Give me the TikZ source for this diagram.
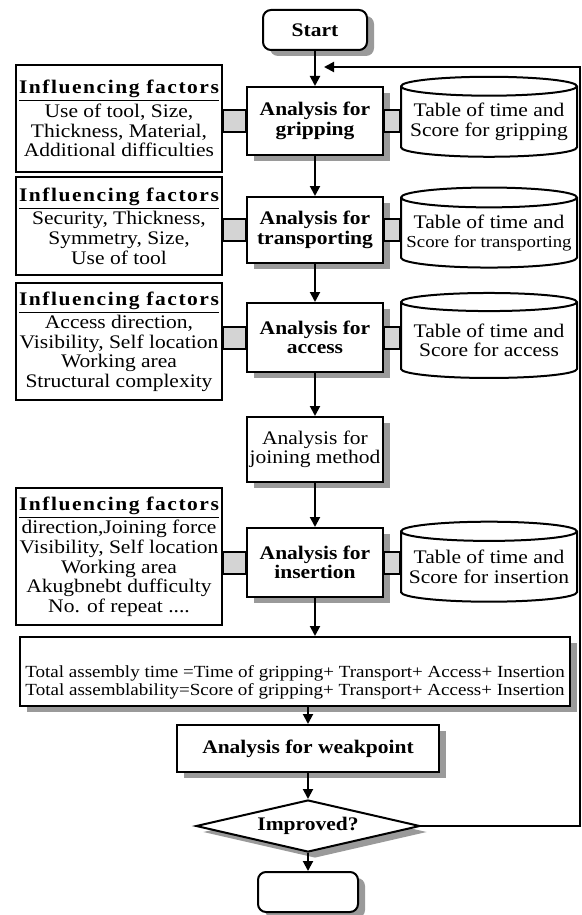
\documentclass[tikz,border=0pt]{standalone}
\usepackage{fontspec}
\setmainfont{Liberation Serif}[FakeStretch=1.12]
\usepackage{tikz}
\usetikzlibrary{arrows.meta,shapes.geometric,shadows}
\definecolor{shadowgray}{HTML}{9A9A9A}
\definecolor{bandgray}{HTML}{D4D4D4}
\newcommand{\infhead}{{\bfseries\addfontfeatures{LetterSpace=8}\underline{Influencing factors}}}

\begin{document}
\begin{tikzpicture}[x=0.5pt, y=-0.5pt, >={Triangle[length=5pt,width=5pt]},
  font=\fontsize{9.6}{9.8}\selectfont,
  boxshadow/.style={drop shadow={shadow xshift=3.5pt, shadow yshift=-3pt, fill=shadowgray, opacity=1}},
  proc/.style={draw, line width=1pt, fill=white, align=center, boxshadow,
    font=\fontsize{9.6}{9.8}\selectfont\bfseries, minimum width=68pt, inner sep=0pt},
  factors/.style={draw, line width=1pt, align=center, minimum width=103pt, inner sep=0pt},
  tablecyl/.style={cylinder, shape border rotate=90, aspect=0.12, draw, line width=1pt,
    align=center, minimum width=88pt, minimum height=40pt, inner sep=0pt},
  band/.style={draw, line width=1pt, fill=bandgray},
  flow/.style={->, line width=1pt}]
  \useasboundingbox (0,0) rectangle (582,915);
  % Start
  \node[proc, rounded corners=4pt, minimum width=52pt, minimum height=20pt] (start) at (315,30) {Start};
  % Gripping
  \node[factors, minimum height=53.5pt] (infl1) at (119,118.5)
    {\infhead\\Use of tool, Size,\\Thickness, Material,\\Additional difficulties};
  \node[proc, minimum height=34pt] (grip) at (315,121) {Analysis for\\gripping};
  \node[tablecyl] (tab1) at (489,122) {Table of time and\\Score for gripping};
  % Transporting
  \node[factors, minimum height=49pt] (infl2) at (119,226)
    {\infhead\\Security, Thickness,\\Symmetry, Size,\\Use of tool};
  \node[proc, minimum height=33pt] (trans) at (315,230) {Analysis for\\transporting};
  \node[tablecyl] (tab2) at (489,233)
    {Table of time and\\{\fontsize{8.4}{9.8}\selectfont Score for transporting}};
  % Access
  \node[factors, minimum height=58.5pt] (infl3) at (119,341.5)
    {\infhead\\Access direction,\\Visibility, Self location\\Working area\\Structural complexity};
  \node[proc, minimum height=34.5pt] (acc) at (315,337.5) {Analysis for\\access};
  \node[tablecyl, minimum height=42.5pt] (tab3) at (489,340.5) {Table of time and\\Score for access};
  % Joining
  \node[proc, font=\fontsize{9.6}{9.8}\selectfont, minimum height=32.5pt] (join) at (315,449.5)
    {Analysis for\\joining method};
  % Insertion
  \node[factors, minimum height=68.5pt] (infl4) at (119,556.5)
    {\infhead\\direction,Joining force\\Visibility, Self location\\Working area\\Akugbnebt dufficulty\\No. of repeat ....};
  \node[proc, minimum height=34.5pt] (ins) at (315,562.5) {Analysis for\\insertion};
  \node[tablecyl] (tab4) at (489,567) {Table of time and\\Score for insertion};
  % Totals
  \node[proc, font=\fontsize{8.5}{9}\selectfont, minimum width=275pt, minimum height=34.5pt] (total) at (295,671.5)
    {\mbox{}\\[8pt]Total assembly time =Time of gripping+ Transport+ Access+ Insertion\\Total assemblability=Score of gripping+ Transport+ Access+ Insertion};
  % Weak point and decision
  \node[proc, minimum width=131pt, minimum height=23.5pt] (weak) at (308,748.5) {Analysis for weakpoint};
  \node[diamond, aspect=4.3, draw, line width=1pt, fill=white, boxshadow,
    font=\fontsize{9.6}{9.8}\selectfont\bfseries, minimum width=112pt, minimum height=26pt, inner sep=0pt]
    (imp) at (308,826) {Improved?};
  \node[proc, rounded corners=4pt, minimum width=50pt, minimum height=20pt] (stop) at (308,892) {};
  % Links to factors and tables
  \foreach \f/\a/\t in {infl1/grip/tab1, infl2/trans/tab2, infl3/acc/tab3, infl4/ins/tab4} {
    \draw[band] ([yshift=5.5pt]\f.east |- \a) rectangle ([yshift=-5.5pt]\a.west);
    \draw[band] ([yshift=5.5pt]\a.east) rectangle ([yshift=-5.5pt]\t.west |- \a);
  }
  % Flow
  \draw[flow] (start) -- (grip);
  \draw[flow] (grip) -- (trans);
  \draw[flow] (trans) -- (acc);
  \draw[flow] (acc) -- (join);
  \draw[flow] (join) -- (ins);
  \draw[flow] (ins) -- (ins |- total.north);
  \draw[flow] (total.south -| weak) -- (weak);
  \draw[flow] (weak) -- (imp);
  \draw[flow] (imp) -- (stop);
  % Loop back
  \coordinate (loopup) at (580,67);
  \coordinate (loopin) at (324,67);
  \draw[flow] (imp.east) -| (loopup) -- (loopin);
\end{tikzpicture}
\end{document}
